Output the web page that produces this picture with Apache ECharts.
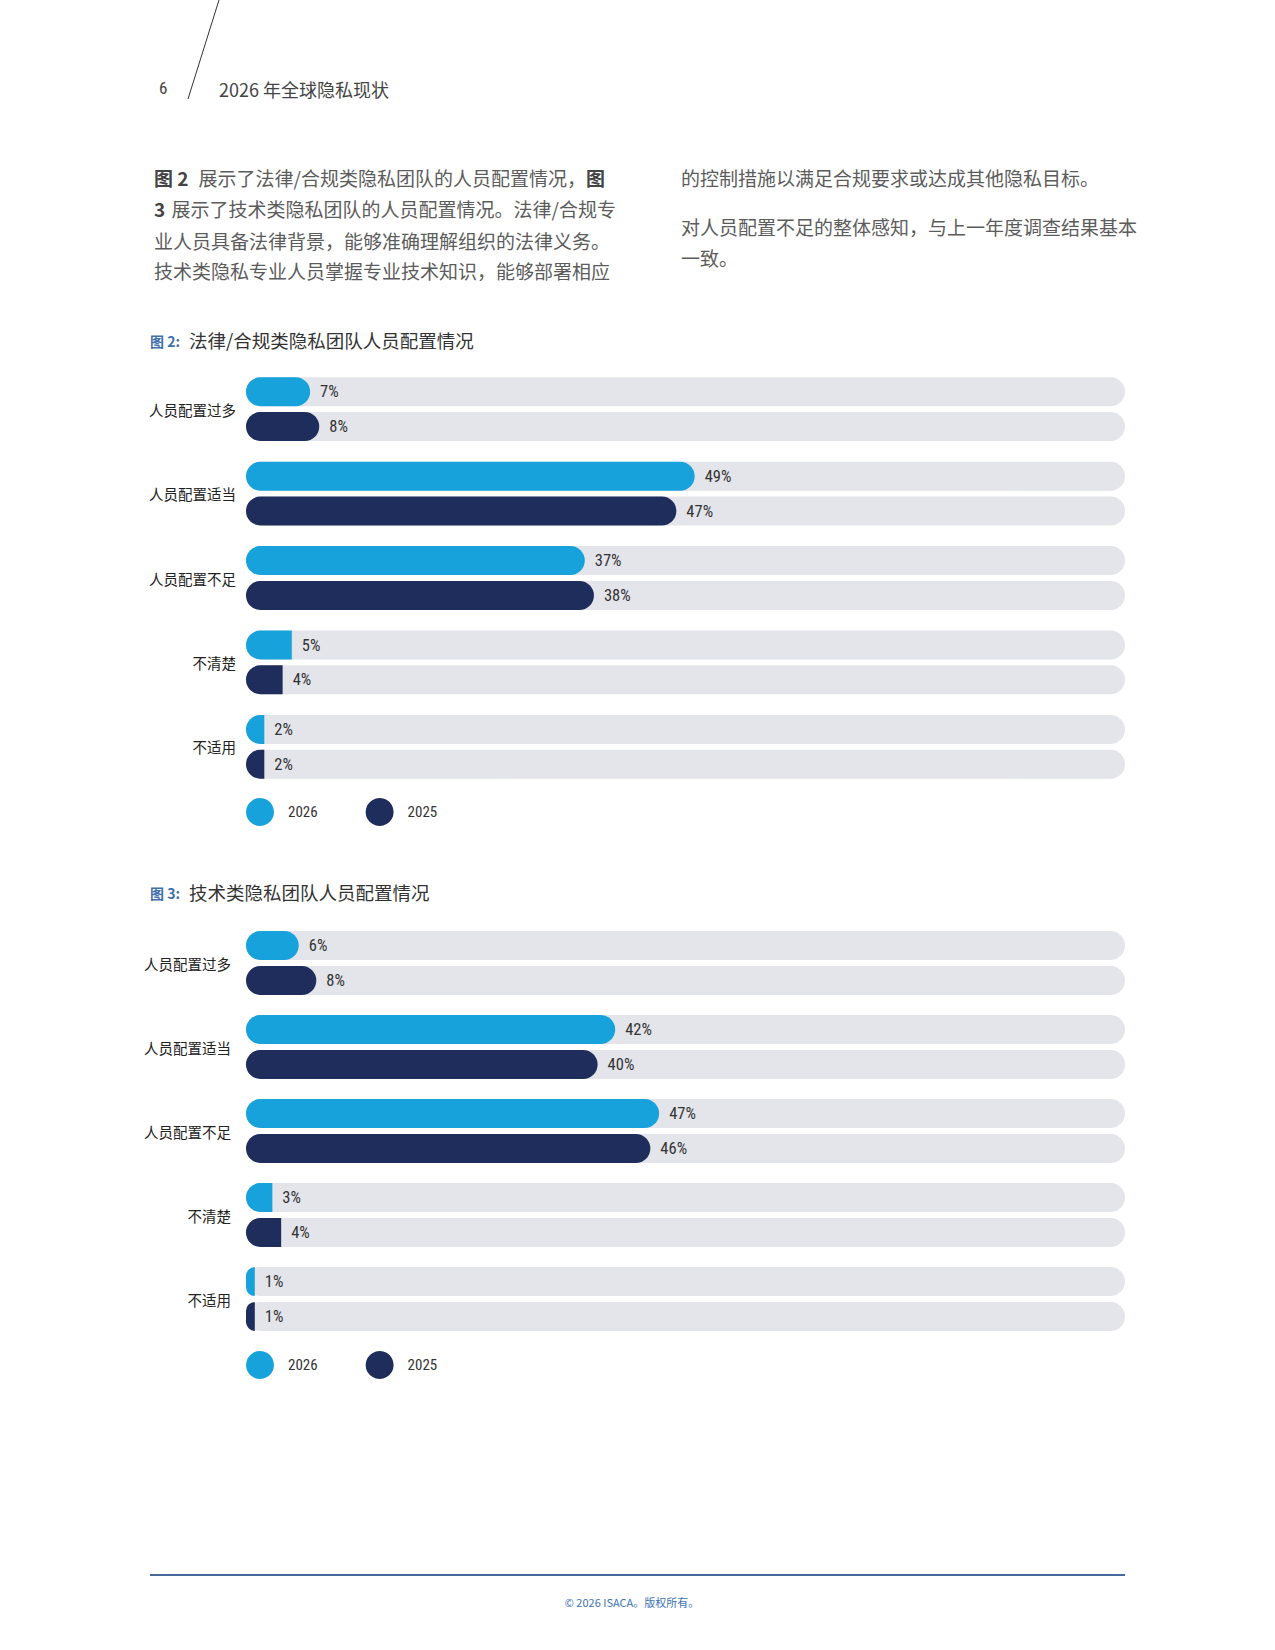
<!DOCTYPE html>
<html><head><meta charset="utf-8">
<script src="https://cdn.jsdelivr.net/npm/echarts@6/dist/echarts.min.js"></script>
<style>html,body{margin:0;padding:0;background:#fff}#c{width:1275px;height:1650px}</style>
</head><body><div id="c"></div>
<script>
// ---- data ----
const categories = ['人员配置过多', '人员配置适当', '人员配置不足', '不清楚', '不适用'];
const seriesNames = ['2026', '2025'];
const fig2_2026 = [7, 49, 37, 5, 2];
const fig2_2025 = [8, 47, 38, 4, 2];
const fig3_2026 = [6, 42, 47, 3, 1];
const fig3_2025 = [8, 40, 46, 4, 1];
const fig2Title = '法律/合规类隐私团队人员配置情况';
const fig3Title = '技术类隐私团队人员配置情况';

// ---- styles ----
const C26 = '#17a2dc', C25 = '#1e2d5b', TRACK = '#e4e5ea';
const CJK = "'Noto Sans CJK SC', 'Noto Sans', sans-serif";
const NUM = "'Roboto Condensed', 'Liberation Sans Narrow', 'DejaVu Sans Condensed', 'Roboto', sans-serif";
const R = 14.5;

function mkSeries(name, data, idx, color) {
  return {
    type: 'bar', name: name, xAxisIndex: idx, yAxisIndex: idx,
    barWidth: 29, barGap: '20%', silent: true,
    data: data.map(v => ({ value: v, itemStyle: { borderRadius: v <= 5 ? [R, 0, 0, R] : R } })),
    itemStyle: { color: color },
    showBackground: true,
    backgroundStyle: { color: TRACK, borderRadius: R },
    label: { show: true, position: 'right', distance: 10, formatter: '{c}%',
      fontSize: 16.5, color: '#333', fontFamily: NUM }
  };
}
function yAx(idx, margin) {
  return { gridIndex: idx, type: 'category', data: categories, inverse: true,
    axisLine: { show: false }, axisTick: { show: false },
    axisLabel: { fontSize: 14.5, color: '#222', margin: margin, fontFamily: CJK } };
}
function legend(top) {
  return { data: seriesNames, left: 241, top: top, orient: 'horizontal',
    itemWidth: 46, itemHeight: 28, itemGap: 48, icon: 'circle', selectedMode: false,
    textStyle: { fontSize: 15, color: '#333', fontFamily: NUM } };
}
function txt(x, y, text, size, color, extra) {
  return Object.assign({ type: 'text', x: x, y: y, silent: true,
    style: Object.assign({ text: text, fontSize: size, fill: color, fontFamily: CJK,
      verticalAlign: 'middle', align: 'left' }, extra || {}) });
}

const bold = { fontWeight: 'bold', fontSize: 19, fill: '#444', fontFamily: CJK };
const bodyRich = {
  b: bold,
  bp: Object.assign({}, bold, { padding: [0, 10, 0, 0] }),
  bq: Object.assign({}, bold, { padding: [0, 2, 0, 0] })
};
const BODY = '#5c5c5c';
const graphics = [
  { type: 'line', silent: true, shape: { x1: 219, y1: 0, x2: 188, y2: 99 }, style: { stroke: '#333', lineWidth: 1 } },
  txt(159, 88, '6', 17, '#444', { fontFamily: NUM }),
  txt(219, 89, '2026 年全球隐私现状', 18, '#444'),
  txt(154, 177, '{bp|图 2}展示了法律/合规类隐私团队的人员配置情况，{b|图}', 19, BODY, { rich: bodyRich }),
  txt(154, 208, '{bq|3} 展示了技术类隐私团队的人员配置情况。法律/合规专', 19, BODY, { rich: bodyRich }),
  txt(154, 240, '业人员具备法律背景，能够准确理解组织的法律义务。', 19, BODY),
  txt(154, 270, '技术类隐私专业人员掌握专业技术知识，能够部署相应', 19, BODY),
  txt(681, 177, '的控制措施以满足合规要求或达成其他隐私目标。', 19, BODY),
  txt(681, 226, '对人员配置不足的整体感知，与上一年度调查结果基本', 19, BODY),
  txt(681, 257, '一致。', 19, BODY),
  txt(150, 341, '图 2:', 14, '#3d6fa8', { fontWeight: 'bold' }),
  txt(189, 340, fig2Title, 18.5, '#333'),
  txt(150, 893, '图 3:', 14, '#3d6fa8', { fontWeight: 'bold' }),
  txt(189, 892, fig3Title, 18.5, '#333'),
  { type: 'line', silent: true, shape: { x1: 150, y1: 1575, x2: 1125, y2: 1575 }, style: { stroke: '#46699a', lineWidth: 2 } },
  txt(632, 1602, '© 2026 ISACA。版权所有。', 11, '#3d72b5', { align: 'center' })
];

const chart = echarts.init(document.getElementById('c'), null, { renderer: 'svg', width: 1275, height: 1650 });
chart.setOption({
  backgroundColor: '#fff',
  animation: false,
  grid: [
    { left: 246, width: 879, top: 367, height: 422 },
    { left: 246, width: 879, top: 921, height: 420 }
  ],
  xAxis: [
    { gridIndex: 0, type: 'value', min: 0, max: 96, show: false },
    { gridIndex: 1, type: 'value', min: 0, max: 100, show: false }
  ],
  yAxis: [yAx(0, 10), yAx(1, 15)],
  legend: [legend(793), legend(1346)],
  series: [
    mkSeries(seriesNames[0], fig2_2026, 0, C26),
    mkSeries(seriesNames[1], fig2_2025, 0, C25),
    mkSeries(seriesNames[0], fig3_2026, 1, C26),
    mkSeries(seriesNames[1], fig3_2025, 1, C25)
  ],
  graphic: graphics
});
</script>
</body></html>
